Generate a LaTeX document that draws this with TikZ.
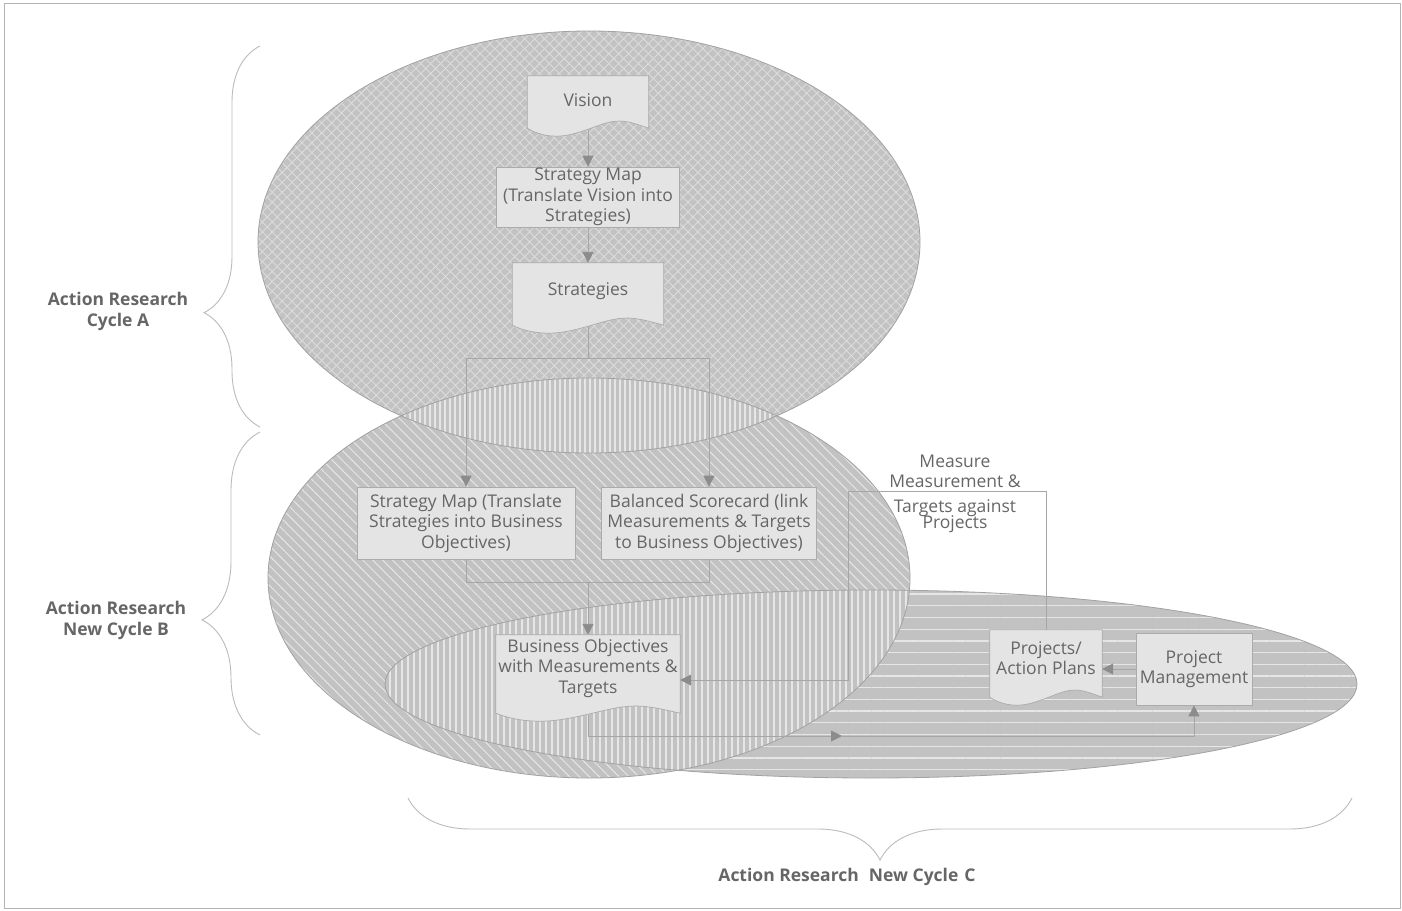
\documentclass[tikz,border=0pt]{standalone}
\usepackage{fontspec}
\setmainfont{Open Sans}
\usetikzlibrary{patterns.meta,calc,arrows.meta,decorations.pathreplacing}
\pgfdeclarelayer{ovals}
\pgfdeclarelayer{docs}
\pgfsetlayers{ovals,docs,main}

\definecolor{basegray}{HTML}{C2C2C2}
\definecolor{hatch}{HTML}{DCDCDC}
\definecolor{stripe}{HTML}{E6E6E6}
\definecolor{edgegray}{HTML}{A2A2A2}
\definecolor{boxfill}{HTML}{E4E4E5}
\definecolor{boxline}{HTML}{ABABAB}
\definecolor{txt}{HTML}{666666}
\definecolor{conngray}{HTML}{A6A6A6}
\definecolor{tipgray}{HTML}{8C8C8C}
\definecolor{bracegray}{HTML}{BBBBBB}
\definecolor{framegray}{HTML}{B4B4B4}

\tikzset{
  textfont/.style={font=\fontsize{17.5}{20.5}\selectfont},
  boxnode/.style={draw=boxline, fill=boxfill, line width=0.7pt, inner sep=0pt,
                  align=center, text=txt, textfont},
  docnode/.style={inner sep=0pt, align=center, text=txt, textfont},
  docoutline/.style={draw=boxline, fill=boxfill, line width=0.7pt},
  plaintext/.style={inner sep=0pt, align=center, text=txt, textfont},
  cyclelabel/.style={inner sep=0pt, align=center, text=txt,
                     font=\bfseries\fontsize{17.5}{21}\selectfont},
  link/.style={draw=conngray, line width=0.9pt},
  arrowlink/.style={link, -{Triangle[length=11pt,width=11pt,color=tipgray]}},
  bracestyle/.style={draw=bracegray, line width=0.9pt, decorate},
  ovaledge/.style={draw=edgegray, line width=0.8pt}
}

% document shape with a torn lower edge, drawn behind the text of node #1;
% #2 is how far the sides reach below the node
\newcommand\docshape[2]{%
  \begin{pgfonlayer}{docs}
  \draw[docoutline] (#1.north west) -- (#1.north east) -- ($(#1.south east)+(0,#2)$)
    .. controls ($(#1.south east)!0.10!(#1.south west)+(0,{#2-4})$)
            and ($(#1.south east)!0.18!(#1.south west)+(0,{#2-8})$)
    .. ($(#1.south east)!0.27!(#1.south west)+(0,{#2-7})$)
    .. controls ($(#1.south east)!0.40!(#1.south west)+(0,{#2-6})$)
            and ($(#1.south east)!0.58!(#1.south west)+(0,{#2+8})$)
    .. ($(#1.south east)!0.76!(#1.south west)+(0,{#2+8})$)
    .. controls ($(#1.south east)!0.88!(#1.south west)+(0,{#2+8})$)
            and ($(#1.south east)!0.96!(#1.south west)+(0,{#2+3})$)
    .. ($(#1.south west)+(0,#2)$) -- cycle;
  \end{pgfonlayer}
  \coordinate (#1-bot) at ($(#1.south)+(0,{#2+2})$);}

\begin{document}
\begin{tikzpicture}[x=1pt,y=-1pt]
\useasboundingbox (0,0) rectangle (1402,910);
\draw[framegray, line width=1pt] (4,3) rectangle (1400,908);

% ---------- the three cycles ----------
\begin{pgfonlayer}{ovals}
  % cycle A
  \fill[basegray] (589,242) ellipse [x radius=331, y radius=211];
  \fill[pattern={Lines[angle=45,distance=7pt,line width=0.9pt]}, pattern color=hatch]
    (589,242) ellipse [x radius=331, y radius=211];
  \fill[pattern={Lines[angle=-45,distance=7pt,line width=0.9pt]}, pattern color=hatch]
    (589,242) ellipse [x radius=331, y radius=211];
  % cycle B
  \fill[basegray] (589,578) ellipse [x radius=321, y radius=200];
  \fill[pattern={Lines[angle=-45,distance=7pt,line width=1pt]}, pattern color=stripe]
    (589,578) ellipse [x radius=321, y radius=200];
  % cycle C
  \fill[basegray] (871,684) ellipse [x radius=486, y radius=94];
  \fill[pattern={Lines[angle=0,distance=11.7pt,line width=1.3pt]}, pattern color=stripe]
    (871,684) ellipse [x radius=486, y radius=94];
  % overlap of A and B
  \begin{scope}
    \clip (589,242) ellipse [x radius=331, y radius=211];
    \fill[basegray] (589,578) ellipse [x radius=321, y radius=200];
    \fill[pattern={Lines[angle=90,distance=5pt,line width=1.7pt]}, pattern color=stripe]
      (589,578) ellipse [x radius=321, y radius=200];
  \end{scope}
  % overlap of B and C
  \begin{scope}
    \clip (589,578) ellipse [x radius=321, y radius=200];
    \fill[basegray] (871,684) ellipse [x radius=486, y radius=94];
    \fill[pattern={Lines[angle=90,distance=6pt,line width=2pt]}, pattern color=stripe]
      (871,684) ellipse [x radius=486, y radius=94];
  \end{scope}
  \draw[ovaledge] (589,242) ellipse [x radius=331, y radius=211];
  \draw[ovaledge] (589,578) ellipse [x radius=321, y radius=200];
  \draw[ovaledge] (871,684) ellipse [x radius=486, y radius=94];
\end{pgfonlayer}

% ---------- boxes ----------
\node[docnode, minimum width=121, minimum height=48] (vision) at (588,100) {Vision};
\docshape{vision}{4}
\node[boxnode, minimum width=183, minimum height=60] (smap) at (588,197)
  {Strategy Map\\(Translate Vision into\\Strategies)};
\node[docnode, minimum width=151, minimum height=56] (strat) at (588,291) {Strategies};
\docshape{strat}{6}
\node[boxnode, minimum width=218, minimum height=72] (smb) at (466,523)
  {Strategy Map (Translate\\Strategies into Business\\Objectives)};
\node[boxnode, minimum width=215, minimum height=72] (bsc) at (709,523)
  {Balanced Scorecard (link\\Measurements \& Targets\\to Business Objectives)};
\node[docnode, minimum width=184, minimum height=66] (bo) at (588,668)
  {Business Objectives\\with Measurements \&\\Targets};
\docshape{bo}{12}
\node[docnode, minimum width=112, minimum height=56] (proj) at (1046,658)
  {Projects/\\Action Plans};
\docshape{proj}{11}
\node[boxnode, minimum width=116, minimum height=72] (pm) at (1194,669)
  {Project\\Management};
\node[plaintext] (meas) at (955,494)
  {Measure\\Measurement \&\\[4pt]Targets against\\[-4pt]Projects};

% ---------- connectors ----------
\draw[arrowlink] (vision-bot) -- (smap.north);
\draw[arrowlink] (smap.south) -- (strat.north);
\coordinate (forkA) at (588,358);
\draw[link] (strat-bot) -- (forkA);
\draw[arrowlink] (forkA) -| (smb.north);
\draw[arrowlink] (forkA) -| (bsc.north);
\coordinate (joinB) at (588,582);
\draw[link] (smb.south) |- (joinB);
\draw[link] (bsc.south) |- (joinB);
\draw[arrowlink] (joinB) -- (bo.north);
\coordinate (mTop) at (848,491);
\coordinate (mLow) at (848,680);
\draw[arrowlink] (proj.north) |- (mTop) -- (mLow) -- (mLow -| bo.east);
\draw[arrowlink] (pm.west) -- (pm.west -| proj.east);
\coordinate (botL) at (588,736);
\coordinate (botMid) at (842,736);
\draw[link] (bo-bot) -- (botL);
\draw[arrowlink] (botL) -- (botMid);
\draw[arrowlink] (botMid) -| (pm.south);

% ---------- braces and cycle labels ----------
\draw[bracestyle, decoration={brace,amplitude=56pt,aspect=0.30}] (260,427) -- (260,46);
\draw[bracestyle, decoration={brace,amplitude=58pt,aspect=0.38}] (260,735) -- (260,432);
\draw[bracestyle, decoration={brace,amplitude=62pt,aspect=0.5}] (1352,798) -- (408,798);
\node[cyclelabel] (labA) at (118,311) {Action Research\\Cycle A};
\node[cyclelabel] (labB) at (116,620) {Action Research\\New Cycle B};
\node[cyclelabel] (labC) at (847,877) {Action Research\hspace{10pt}New Cycle\hspace{6pt}C};
\end{tikzpicture}
\end{document}
